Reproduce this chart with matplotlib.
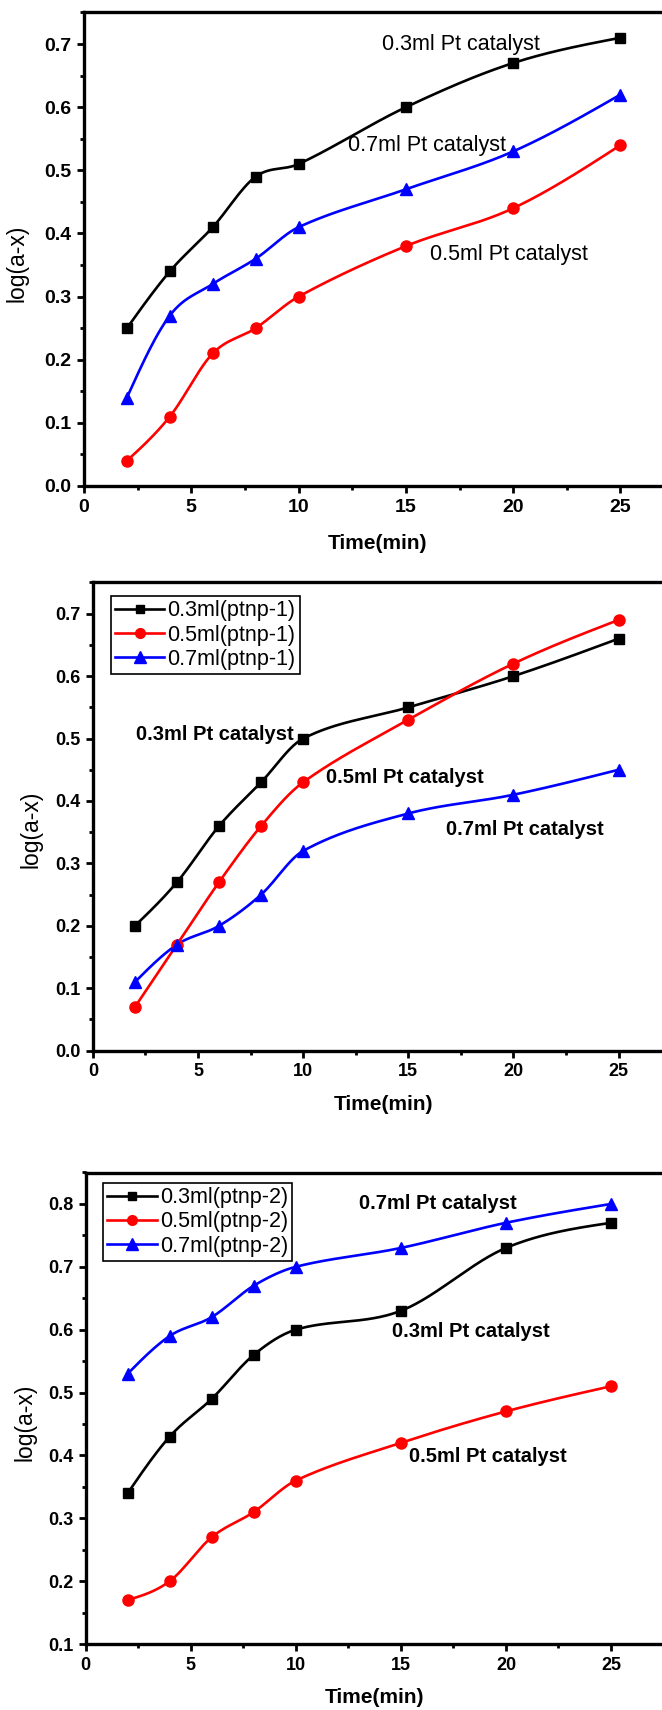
import numpy as np
import matplotlib
matplotlib.use("Agg")
import matplotlib.pyplot as plt
from matplotlib.lines import Line2D
from matplotlib.ticker import MultipleLocator, FormatStrFormatter

plt.rcParams['font.family'] = ['Liberation Sans', 'DejaVu Sans']

# ---------------- data ----------------
time_min = [2, 4, 6, 8, 10, 15, 20, 25]

p1_03 = [0.25, 0.34, 0.41, 0.49, 0.51, 0.60, 0.67, 0.71]
p1_05 = [0.04, 0.11, 0.21, 0.25, 0.30, 0.38, 0.44, 0.54]
p1_07 = [0.14, 0.27, 0.32, 0.36, 0.41, 0.47, 0.53, 0.62]

p2_03 = [0.20, 0.27, 0.36, 0.43, 0.50, 0.55, 0.60, 0.66]
p2_05 = [0.07, 0.17, 0.27, 0.36, 0.43, 0.53, 0.62, 0.69]
p2_07 = [0.11, 0.17, 0.20, 0.25, 0.32, 0.38, 0.41, 0.45]

p3_03 = [0.34, 0.43, 0.49, 0.56, 0.60, 0.63, 0.73, 0.77]
p3_05 = [0.17, 0.20, 0.27, 0.31, 0.36, 0.42, 0.47, 0.51]
p3_07 = [0.53, 0.59, 0.62, 0.67, 0.70, 0.73, 0.77, 0.80]

legend_p2 = ['0.3ml(ptnp-1)', '0.5ml(ptnp-1)', '0.7ml(ptnp-1)']
legend_p3 = ['0.3ml(ptnp-2)', '0.5ml(ptnp-2)', '0.7ml(ptnp-2)']
ann_labels = ['0.3ml Pt catalyst', '0.5ml Pt catalyst', '0.7ml Pt catalyst']


def smooth_curve(x, y, n=300):
    """Cubic Hermite (Catmull-Rom style) curve through the data points."""
    x = np.asarray(x, float)
    y = np.asarray(y, float)
    k = len(x)
    h = np.diff(x)
    d = np.zeros(k)
    d[1:-1] = (y[2:] - y[:-2]) / (x[2:] - x[:-2])
    d[0] = 2 * (y[1] - y[0]) / h[0] - d[1]
    d[-1] = 2 * (y[-1] - y[-2]) / h[-1] - d[-2]
    # average endpoint estimate with the secant to avoid excess curvature
    d[0] = 0.5 * (d[0] + (y[1] - y[0]) / h[0])
    d[-1] = 0.5 * (d[-1] + (y[-1] - y[-2]) / h[-1])
    xs = np.linspace(x[0], x[-1], n)
    idx = np.clip(np.searchsorted(x, xs) - 1, 0, k - 2)
    hh = h[idx]
    t = (xs - x[idx]) / hh
    h00 = 2 * t ** 3 - 3 * t ** 2 + 1
    h10 = t ** 3 - 2 * t ** 2 + t
    h01 = -2 * t ** 3 + 3 * t ** 2
    h11 = t ** 3 - t ** 2
    ys = h00 * y[idx] + h10 * hh * d[idx] + h01 * y[idx + 1] + h11 * hh * d[idx + 1]
    return xs, ys


W, H = 662, 1710
fig = plt.figure(figsize=(W / 100, H / 100), dpi=100)


def make_axes(left, top, bottom, px_per_unit, xmax=28):
    width = xmax * px_per_unit
    return fig.add_axes([left / W, 1 - bottom / H, width / W, (bottom - top) / H])


styles = [('black', 's', 7), ('red', 'o', 8), ('blue', '^', 9)]
LW = 1.9


def draw_series(ax, ys_list):
    for (c, m, ms), ys in zip(styles, ys_list):
        sx, sy = smooth_curve(time_min, ys)
        ax.plot(sx, sy, color=c, lw=LW, zorder=3, clip_on=False)
        ax.plot(time_min, ys, linestyle='none', marker=m, color=c, ms=ms,
                zorder=4, clip_on=False)


def style_axes(ax, yticks, ylo, yhi, ticksize=14):
    ax.set_xlim(0, 28)
    ax.set_ylim(ylo, yhi)
    ax.set_xticks([0, 5, 10, 15, 20, 25])
    ax.xaxis.set_minor_locator(MultipleLocator(2.5))
    ax.set_yticks(yticks)
    ax.yaxis.set_minor_locator(MultipleLocator(0.05))
    ax.yaxis.set_major_formatter(FormatStrFormatter('%.1f'))
    ax.tick_params(which='major', direction='out', length=5, width=2,
                   labelsize=ticksize, pad=4)
    ax.tick_params(which='minor', direction='out', length=3, width=2)
    ax.tick_params(top=False, right=False, which='both')
    for s in ax.spines.values():
        s.set_linewidth(2.4)
    for lab in ax.get_xticklabels() + ax.get_yticklabels():
        lab.set_fontweight('bold')


def labels(ax, ylx, yly, xlx, xly, size=15):
    ax.set_ylabel('log(a-x)', fontsize=16.5)
    ax.set_xlabel('Time(min)', fontsize=size, fontweight='bold')
    ax.yaxis.set_label_coords(ylx, yly)
    ax.xaxis.set_label_coords(xlx, xly)


def add_legend(ax, names, bx, by):
    handles = [Line2D([], [], color=c, marker=m, ms=ms - 1, lw=LW)
               for (c, m, ms) in styles]
    leg = ax.legend(handles, names, loc='upper left', bbox_to_anchor=(bx, by),
                    borderaxespad=0, fancybox=False, edgecolor='black',
                    framealpha=1, fontsize=15.5, handlelength=2.3,
                    handletextpad=0.15, borderpad=0.2, labelspacing=0.15,
                    numpoints=1)
    leg.get_frame().set_linewidth(1.2)


yt1 = [0.0, 0.1, 0.2, 0.3, 0.4, 0.5, 0.6, 0.7]
yt3 = [0.1, 0.2, 0.3, 0.4, 0.5, 0.6, 0.7, 0.8]

# ---------------- panel 1 ----------------
ax1 = make_axes(84, 12.5, 486, (620.5 - 84) / 25)
draw_series(ax1, [p1_03, p1_05, p1_07])
style_axes(ax1, yt1, 0.0, 0.75)
labels(ax1, -0.092, 0.471, 0.489, -0.102)
ax1.text(13.9, 0.700, ann_labels[0], fontsize=15.5, va='center', ha='left')
ax1.text(12.3, 0.539, ann_labels[2], fontsize=15.5, va='center', ha='left')
ax1.text(16.1, 0.366, ann_labels[1], fontsize=15.5, va='center', ha='left')

# ---------------- panel 2 ----------------
ax2 = make_axes(92.9, 582.5, 1050.7, (618.5 - 92.9) / 25)
draw_series(ax2, [p2_03, p2_05, p2_07])
style_axes(ax2, yt1, 0.0, 0.75, ticksize=13)
labels(ax2, -0.086, 0.473, 0.493, -0.094)
add_legend(ax2, legend_p2, 0.030, 0.971)
ax2.text(2.05, 0.506, ann_labels[0], fontsize=14.5, fontweight='bold',
         va='center', ha='left')
ax2.text(11.1, 0.438, ann_labels[1], fontsize=14.5, fontweight='bold',
         va='center', ha='left')
ax2.text(16.8, 0.355, ann_labels[2], fontsize=14.5, fontweight='bold',
         va='center', ha='left')

# ---------------- panel 3 ----------------
ax3 = make_axes(85.7, 1172.5, 1644, (611 - 85.7) / 25)
draw_series(ax3, [p3_03, p3_05, p3_07])
style_axes(ax3, yt3, 0.1, 0.85, ticksize=13)
labels(ax3, -0.084, 0.471, 0.491, -0.093)
add_legend(ax3, legend_p3, 0.029, 0.978)
ax3.text(13.0, 0.800, ann_labels[2], fontsize=14.5, fontweight='bold',
         va='center', ha='left')
ax3.text(14.6, 0.597, ann_labels[0], fontsize=14.5, fontweight='bold',
         va='center', ha='left')
ax3.text(15.4, 0.398, ann_labels[1], fontsize=14.5, fontweight='bold',
         va='center', ha='left')

fig.savefig('out.png', dpi=100)
